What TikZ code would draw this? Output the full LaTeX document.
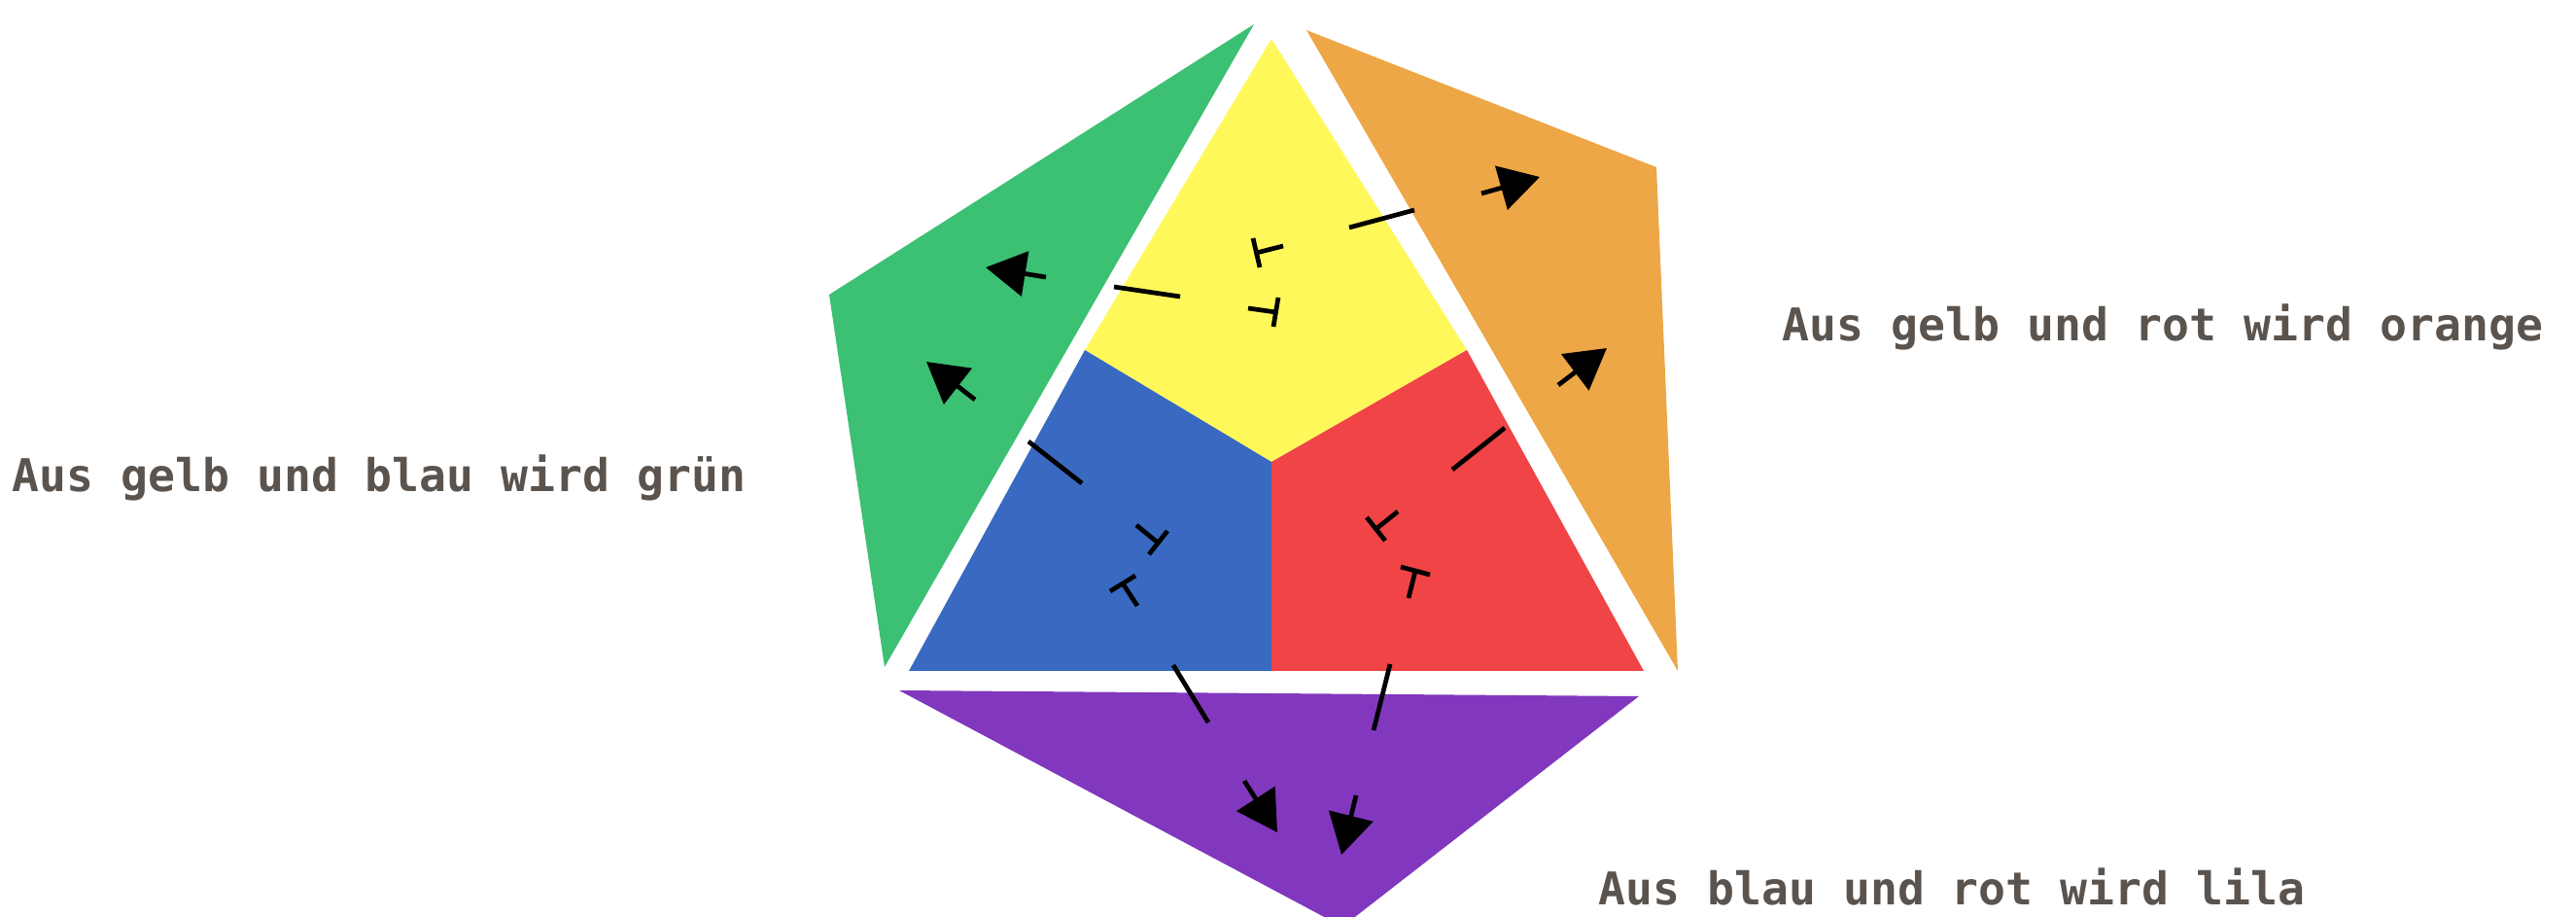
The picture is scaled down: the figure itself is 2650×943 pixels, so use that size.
\documentclass[tikz,border=0pt]{standalone}
\usepackage{fontspec}
\setmonofont{DejaVu Sans Mono}
\usetikzlibrary{arrows.meta}
\definecolor{cgreen}{RGB}{60,192,115}
\definecolor{cyellow}{RGB}{255,248,90}
\definecolor{corange}{RGB}{237,167,70}
\definecolor{cblue}{RGB}{57,105,192}
\definecolor{cred}{RGB}{240,68,70}
\definecolor{cpurple}{RGB}{129,56,190}
\definecolor{ctext}{RGB}{91,84,78}
\tikzset{
  region/.style={draw=none},
  brk/.style={line width=1.35pt, black},
  hd/.style={-{Triangle[length=11.7pt,width=13.1pt]}},
  lbl/.style={inner sep=0pt, text=ctext, font=\fontsize{13.2pt}{16pt}\selectfont\ttfamily\bfseries}
}
\begin{document}
\begin{tikzpicture}[x=0.01cm,y=-0.01cm]
\useasboundingbox (0,0) rectangle (2650,943);
\clip (0,0) rectangle (2650,943);
% regions
\fill[cgreen,region] (1290,25) -- (853,303) -- (910,686) -- cycle;
\fill[corange,region] (1344,31) -- (1704,172) -- (1726,690) -- cycle;
\fill[cpurple,region] (925,710) -- (1686,716) -- (1381,953) -- cycle;
\fill[cyellow,region] (1308,40) -- (1509,360) -- (1308,475) -- (1116,360) -- cycle;
\fill[cblue,region] (1116,360) -- (1308,475) -- (1308,690) -- (935,690) -- cycle;
\fill[cred,region] (1509,360) -- (1691,690) -- (1308,690) -- (1308,475) -- cycle;
% yellow -> orange
\coordinate (yoB1) at (1289,245); \coordinate (yoB2) at (1296,275);
\coordinate (yoS) at (1292.5,260); \coordinate (yoE) at (1320,253);
\coordinate (yoM1) at (1388,234); \coordinate (yoM2) at (1455,216);
\coordinate (yoH) at (1524,199); \coordinate (yoT) at (1584,182);
% yellow -> green
\coordinate (ygB1) at (1315,306); \coordinate (ygB2) at (1310,336);
\coordinate (ygS) at (1312.5,321); \coordinate (ygE) at (1284,317);
\coordinate (ygM1) at (1214,305); \coordinate (ygM2) at (1146,295);
\coordinate (ygH) at (1076,285); \coordinate (ygT) at (1014,275);
% blue -> green
\coordinate (bgB1) at (1201,546); \coordinate (bgB2) at (1182,570);
\coordinate (bgS) at (1191,558); \coordinate (bgE) at (1169,540);
\coordinate (bgM1) at (1113,497); \coordinate (bgM2) at (1058,454);
\coordinate (bgH) at (1003,411); \coordinate (bgT) at (953,372);
% blue -> purple
\coordinate (bpB1) at (1142,608); \coordinate (bpB2) at (1168,592);
\coordinate (bpS) at (1155,600); \coordinate (bpE) at (1170,623);
\coordinate (bpM1) at (1207,684); \coordinate (bpM2) at (1243,743);
\coordinate (bpH) at (1280,803); \coordinate (bpT) at (1314,856);
% red -> orange
\coordinate (roB1) at (1406,532); \coordinate (roB2) at (1425,556);
\coordinate (roS) at (1415.5,544); \coordinate (roE) at (1438,526);
\coordinate (roM1) at (1494,483); \coordinate (roM2) at (1548,440);
\coordinate (roH) at (1603,396); \coordinate (roT) at (1653,358);
% red -> purple
\coordinate (rpB1) at (1441,583); \coordinate (rpB2) at (1471,591);
\coordinate (rpS) at (1456,587); \coordinate (rpE) at (1449,615);
\coordinate (rpM1) at (1430,683); \coordinate (rpM2) at (1413,751);
\coordinate (rpH) at (1395,818); \coordinate (rpT) at (1380,879);
\foreach \a in {yo,yg,bg,bp,ro,rp}{
  \draw[brk] (\a B1) -- (\a B2);
  \draw[brk] (\a S) -- (\a E);
  \draw[brk] (\a M1) -- (\a M2);
  \draw[brk,hd] (\a H) -- (\a T);
}
% labels
\node[lbl, anchor=base west] (tg) at (12,506) {Aus gelb und blau wird grün};
\node[lbl, anchor=base west] (to) at (1833,351) {Aus gelb und rot wird orange};
\node[lbl, anchor=base west] (tp) at (1644,930) {Aus blau und rot wird lila};
\end{tikzpicture}
\end{document}
